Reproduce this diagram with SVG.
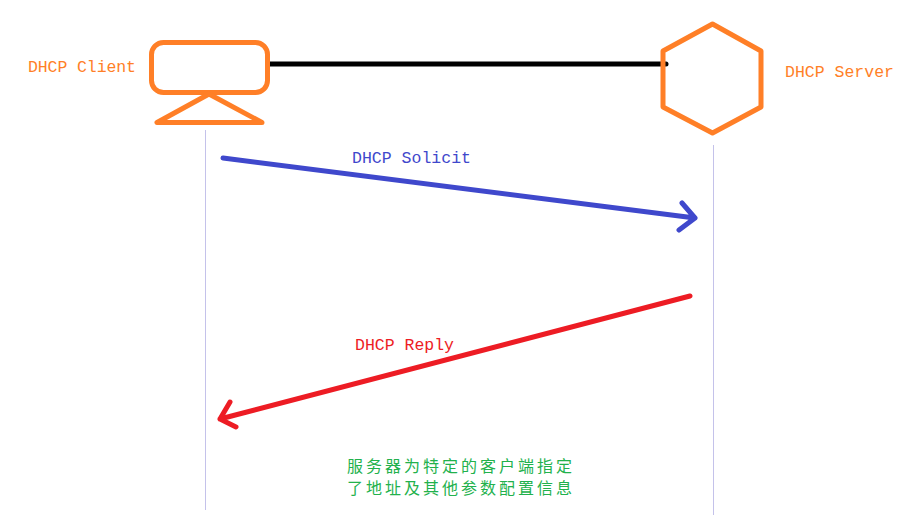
<svg xmlns="http://www.w3.org/2000/svg" width="921" height="516" viewBox="0 0 921 516">
<style>
.bg{fill:#fff}
.o{fill:none;stroke:#ff7f27;stroke-width:5;stroke-linejoin:round;stroke-linecap:round}
.life{stroke:#c4c2ea;stroke-width:1;fill:none}
.lnk{fill:none;stroke-width:5;stroke-linecap:round;stroke-linejoin:round}
text{font-family:"Liberation Mono","Noto Sans CJK SC",monospace;font-size:16.5px}
.cn{font-family:"Noto Sans CJK SC",sans-serif;font-size:16px}
</style>
<rect class="bg" width="921" height="516"/>
<g id="connectors">
<line class="life" x1="205.500" y1="130" x2="205.500" y2="510"/>
<line class="life" x1="713.500" y1="145" x2="713.500" y2="515"/>
<line class="lnk" stroke="#000" x1="268" y1="64" x2="666" y2="64"/>
<path class="lnk" stroke="#3f48cc" d="M223 158L695 218M682 203L695 218L679 230"/>
<path class="lnk" stroke="#ed1c24" d="M690 296L220 419M230 402L220 419L236 427"/>
</g>
<g id="client">
<rect class="o" x="151.500" y="42.500" width="116" height="50" rx="12"/>
<path class="o" d="M209 94L157 122.500H262Z"/>
<text x="28" y="72" fill="#ff7f27" textLength="108">DHCP Client</text>
</g>
<g id="server">
<path class="o" d="M712.500 24L761 51V107L712.500 133L663 107V51Z"/>
<text x="785" y="77" fill="#ff7f27" textLength="109">DHCP Server</text>
</g>
<g id="solicit"><text x="352" y="163" fill="#3f48cc" textLength="119">DHCP Solicit</text></g>
<g id="reply"><text x="355" y="350" fill="#ed1c24" textLength="99">DHCP Reply</text></g>
<g id="note">
<text class="cn" x="347" y="472" fill="#22b14c" textLength="225">服务器为特定的客户端指定</text>
<text class="cn" x="347" y="494" fill="#22b14c" textLength="225">了地址及其他参数配置信息</text>
</g>
</svg>
